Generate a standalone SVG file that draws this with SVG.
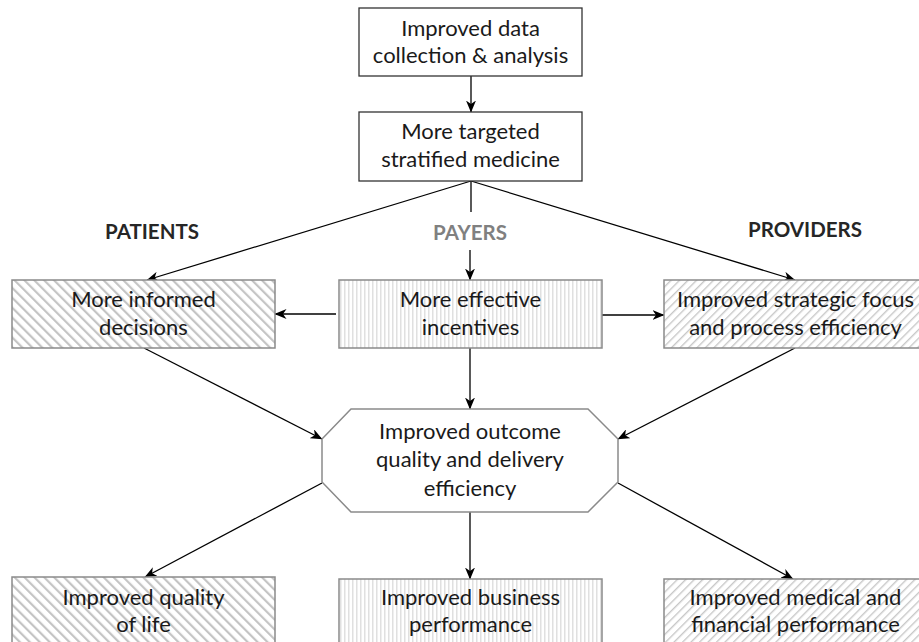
<svg xmlns="http://www.w3.org/2000/svg" width="919" height="642" viewBox="0 0 919 642">
<defs>
  <pattern id="hatchBack" patternUnits="userSpaceOnUse" width="7" height="7" patternTransform="rotate(-45)">
    <rect width="7" height="7" fill="#ffffff"/>
    <rect x="0" y="0" width="2.2" height="7" fill="#c4c4c4"/>
  </pattern>
  <pattern id="hatchFwd" patternUnits="userSpaceOnUse" width="6" height="6" patternTransform="rotate(45)">
    <rect width="6" height="6" fill="#ffffff"/>
    <rect x="0" y="0" width="1.4" height="6" fill="#c8c8c8"/>
  </pattern>
  <pattern id="hatchVert" patternUnits="userSpaceOnUse" width="4" height="4">
    <rect width="4" height="4" fill="#ffffff"/>
    <rect x="0" y="0" width="1.5" height="4" fill="#e0e0e0"/>
  </pattern>
  <marker id="arr" viewBox="0 0 12 10" refX="11.5" refY="5" markerWidth="12" markerHeight="10" markerUnits="userSpaceOnUse" orient="auto">
    <path d="M0,0 L12,5 L0,10 L3.5,5 Z" fill="#000"/>
  </marker>
</defs>
<style>
  .t { font-family: Lato, "Open Sans", "Liberation Sans", sans-serif; font-size: 22px; fill: #1a1a1a; text-anchor: middle; }
  .lbl { font-family: Lato, "Open Sans", "Liberation Sans", sans-serif; font-size: 20.5px; font-weight: bold; text-anchor: middle; }
  .plain { fill: #ffffff; stroke: #333333; stroke-width: 1.3; }
  .hb { fill: url(#hatchBack); stroke: #8a8a8a; stroke-width: 1.5; }
  .hf { fill: url(#hatchFwd); stroke: #8a8a8a; stroke-width: 1.5; }
  .hv { fill: url(#hatchVert); stroke: #8a8a8a; stroke-width: 1.5; }
  .c { stroke: #000; stroke-width: 1.3; fill: none; }
  .ca { stroke: #000; stroke-width: 1.3; fill: none; marker-end: url(#arr); }
</style>
<rect width="919" height="642" fill="#ffffff"/>

<g id="connectors">
  <line class="ca" x1="471" y1="76" x2="471" y2="112"/>
  <line class="ca" x1="471" y1="181" x2="147" y2="280"/>
  <line class="ca" x1="471" y1="181" x2="795" y2="280"/>
  <line class="c" x1="471" y1="181" x2="471" y2="212"/>
  <line class="ca" x1="470" y1="250" x2="470" y2="280"/>
  <line class="ca" x1="336" y1="314" x2="275" y2="314"/>
  <line class="ca" x1="602" y1="315" x2="664" y2="315"/>
  <line class="ca" x1="470" y1="348" x2="470" y2="409"/>
  <line class="ca" x1="144" y1="348" x2="322" y2="439"/>
  <line class="ca" x1="795" y1="348" x2="618" y2="439"/>
  <line class="ca" x1="322" y1="483" x2="145" y2="577"/>
  <line class="ca" x1="470" y1="512" x2="470" y2="579"/>
  <line class="ca" x1="618" y1="483" x2="793" y2="579"/>
</g>

<g id="labels">
  <text class="lbl" x="152" y="239" fill="#262626">PATIENTS</text>
  <g id="payers-label">
    <rect x="423" y="213" width="94" height="37" fill="#ffffff"/>
    <text class="lbl" x="470" y="240" fill="#808080">PAYERS</text>
  </g>
  <text class="lbl" x="805" y="237" fill="#262626">PROVIDERS</text>
</g>

<g id="node-data">
  <rect class="plain" x="359" y="8" width="223" height="68"/>
  <text class="t" x="470.5" y="36">Improved data</text>
  <text class="t" x="470.5" y="63">collection &amp; analysis</text>
</g>

<g id="node-targeted">
  <rect class="plain" x="359" y="112" width="223" height="69"/>
  <text class="t" x="470.5" y="139">More targeted</text>
  <text class="t" x="470.5" y="167">stratified medicine</text>
</g>

<g id="node-informed">
  <rect class="hb" x="12" y="280" width="263" height="68"/>
  <text class="t" x="143.5" y="307">More informed</text>
  <text class="t" x="143.5" y="335">decisions</text>
</g>

<g id="node-incentives">
  <rect class="hv" x="339" y="280" width="263" height="68"/>
  <text class="t" x="470.5" y="307">More effective</text>
  <text class="t" x="470.5" y="335">incentives</text>
</g>

<g id="node-strategic">
  <rect class="hf" x="664" y="280" width="263" height="68"/>
  <text class="t" x="795.5" y="307">Improved strategic focus</text>
  <text class="t" x="795.5" y="335">and process efficiency</text>
</g>

<g id="node-outcome">
  <polygon points="351,409 588,409 618,439 618,482 588,512 351,512 322,482 322,439" fill="#ffffff" stroke="#8a8a8a" stroke-width="1.5"/>
  <text class="t" x="470" y="439">Improved outcome</text>
  <text class="t" x="470" y="467">quality and delivery</text>
  <text class="t" x="470" y="496">efficiency</text>
</g>

<g id="node-quality">
  <rect class="hb" x="12" y="577" width="263" height="80"/>
  <text class="t" x="143.5" y="605">Improved quality</text>
  <text class="t" x="143.5" y="632">of life</text>
</g>

<g id="node-business">
  <rect class="hv" x="339" y="579" width="263" height="80"/>
  <text class="t" x="470.5" y="605">Improved business</text>
  <text class="t" x="470.5" y="632">performance</text>
</g>

<g id="node-medical">
  <rect class="hf" x="664" y="579" width="263" height="80"/>
  <text class="t" x="795.5" y="605">Improved medical and</text>
  <text class="t" x="795.5" y="632">financial performance</text>
</g>
</svg>
